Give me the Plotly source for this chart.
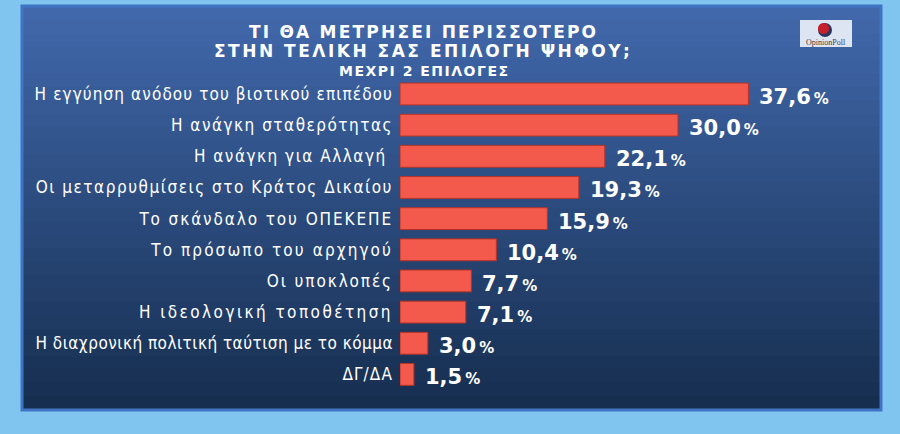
import plotly.graph_objects as go

categories = [
    "Η εγγύηση ανόδου του βιοτικού επιπέδου",
    "Η ανάγκη σταθερότητας",
    "Η ανάγκη για Αλλαγή",
    "Οι μεταρρυθμίσεις στο Κράτος Δικαίου",
    "Το σκάνδαλο του ΟΠΕΚΕΠΕ",
    "Το πρόσωπο του αρχηγού",
    "Οι υποκλοπές",
    "Η ιδεολογική τοποθέτηση",
    "Η διαχρονική πολιτική ταύτιση με το κόμμα",
    "ΔΓ/ΔΑ",
]
values = [37.6, 30.0, 22.1, 19.3, 15.9, 10.4, 7.7, 7.1, 3.0, 1.5]
title_lines = ["ΤΙ ΘΑ ΜΕΤΡΗΣΕΙ ΠΕΡΙΣΣΟΤΕΡΟ", "ΣΤΗΝ ΤΕΛΙΚΗ ΣΑΣ ΕΠΙΛΟΓΗ ΨΗΦΟΥ;"]
subtitle = "ΜΕΧΡΙ 2 ΕΠΙΛΟΓΕΣ"

label_spacing = [1.1, 1.5, 1.5, 1.53, 1.9, 2.1, 1.9, 2.45, 0.48, 1.1]
label_trail = ["", "", "\u00a0", "", "", "", "", "", "", ""]

W, H = 900, 434
ML, MR, MT, MB = 400, 20, 77, 44
PW, PH = W - ML - MR, H - MT - MB

def fx(xp):
    return (xp - ML) / PW

def fy(yp):
    return 1 - (yp - MT) / PH

fig = go.Figure()
fig.add_trace(go.Bar(
    x=values, y=categories, orientation="h",
    marker=dict(color="#f45a4b", line=dict(color="#b83328", width=1)),
    width=0.7, hoverinfo="skip",
))

shapes = []
top = (66, 104, 172)
bot = (22, 46, 80)
x0, x1, y0, y1 = 22, 881, 6, 410
n = 30
for i in range(n):
    t = i / (n - 1)
    c = tuple(int(top[k] + (bot[k] - top[k]) * t) for k in range(3))
    ya = y0 + (y1 - y0) * i / n
    yb = y0 + (y1 - y0) * (i + 1) / n + 1
    shapes.append(dict(type="rect", xref="paper", yref="paper",
                       x0=fx(x0), x1=fx(x1), y0=fy(min(yb, y1)), y1=fy(ya),
                       fillcolor="rgb(%d,%d,%d)" % c, line=dict(width=0), layer="below"))
shapes.append(dict(type="rect", xref="paper", yref="paper",
                   x0=fx(x0), x1=fx(x1), y0=fy(y1), y1=fy(y0),
                   fillcolor="rgba(0,0,0,0)", line=dict(color="#3f74c4", width=3), layer="below"))
# logo
shapes.append(dict(type="rect", xref="paper", yref="paper",
                   x0=fx(800), x1=fx(852), y0=fy(47), y1=fy(20),
                   fillcolor="rgba(235,240,248,0.92)", line=dict(width=0), layer="above"))
shapes.append(dict(type="circle", xref="paper", yref="paper",
                   x0=fx(818), x1=fx(832), y0=fy(37), y1=fy(23),
                   fillcolor="#2a3560", line=dict(width=0), layer="above"))
shapes.append(dict(type="circle", xref="paper", yref="paper",
                   x0=fx(818), x1=fx(829), y0=fy(34), y1=fy(23),
                   fillcolor="#c8202a", line=dict(width=0), layer="above"))

annotations = []
for txt, yp, sp in zip(title_lines, [32, 51], [2.2, 2.5]):
    annotations.append(dict(xref="paper", yref="paper", x=fx(423), y=fy(yp),
                            text="<span style='letter-spacing:%.1fpx'><b>%s</b></span>" % (sp, txt),
                            showarrow=False,
                            font=dict(family="DejaVu Sans", size=17, color="white"),
                            xanchor="center", yanchor="middle"))
annotations.append(dict(xref="paper", yref="paper", x=fx(424), y=fy(71),
                        text="<span style='letter-spacing:1.5px'><b>" + subtitle + "</b></span>",
                        showarrow=False,
                        font=dict(family="DejaVu Sans", size=14, color="white"),
                        xanchor="center", yanchor="middle"))
annotations.append(dict(xref="paper", yref="paper", x=fx(826), y=fy(42),
                        text="OpinionPoll", showarrow=False,
                        font=dict(family="Liberation Serif", size=8, color="#4a3a3a"),
                        xanchor="center", yanchor="middle"))

for c, v in zip(categories, values):
    s = ("%.1f" % v).replace(".", ",")
    annotations.append(dict(x=v, y=c, xref="x", yref="y",
                            text="<b>" + s + "</b><span style='font-size:15px'><b>\u2009%</b></span>",
                            showarrow=False, xanchor="left", yanchor="middle", xshift=9, yshift=-3,
                            font=dict(family="DejaVu Sans", size=21, color="white")))

ticktext = ["<span style='letter-spacing:%.2fpx'>%s%s</span>" % (sp, c, tr)
            for c, sp, tr in zip(categories, label_spacing, label_trail)]

fig.update_layout(
    width=W, height=H,
    margin=dict(l=ML, r=MR, t=MT, b=MB, autoexpand=False),
    paper_bgcolor="#80c5ef",
    plot_bgcolor="rgba(0,0,0,0)",
    showlegend=False,
    shapes=shapes,
    annotations=annotations,
    xaxis=dict(range=[0, 51.8], visible=False, fixedrange=True),
    yaxis=dict(autorange="reversed", showgrid=False, zeroline=False, showline=False,
               ticks="", ticklabelstandoff=6,
               tickmode="array", tickvals=categories, ticktext=ticktext,
               tickfont=dict(family="DejaVu Sans Condensed", size=17, color="white")),
)

fig.write_html("out.html", config={"displayModeBar": False})
